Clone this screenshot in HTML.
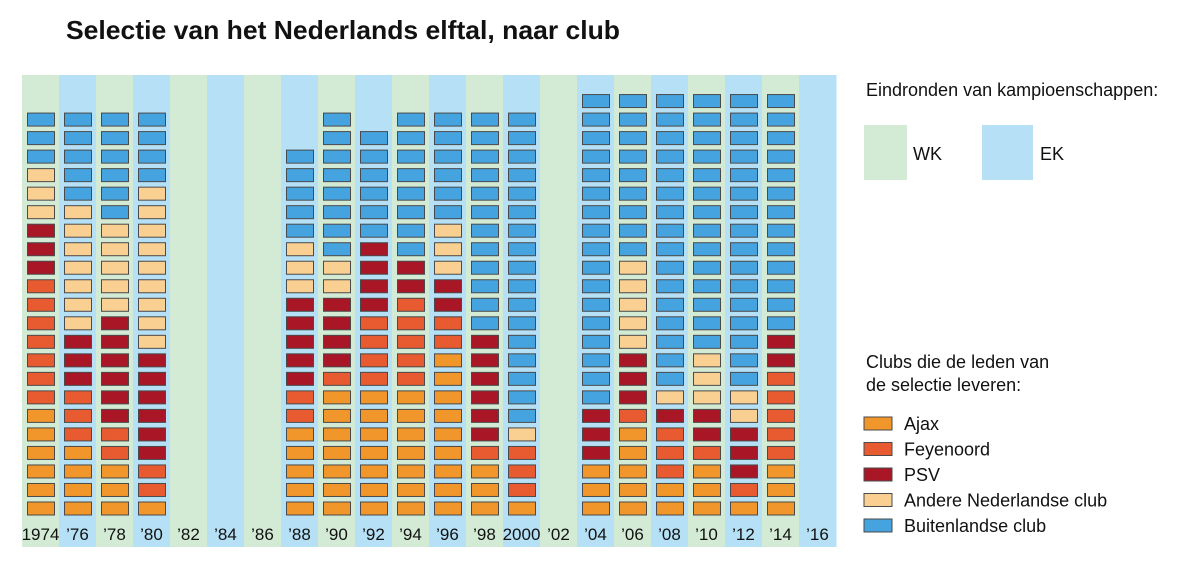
<!DOCTYPE html>
<html><head><meta charset="utf-8"><style>
body{margin:0;background:#fff;width:1200px;height:564px;overflow:hidden}
svg{display:block;font-family:"Liberation Sans",sans-serif}
</style></head><body>
<svg id="chart" width="1200" height="564">
<text x="66" y="39" font-size="26" font-weight="bold" fill="#111" textLength="554" lengthAdjust="spacingAndGlyphs">Selectie van het Nederlands elftal, naar club</text>
<g id="bands"></g><g id="blocks"></g><g id="labels"></g>
<g>
<text x="866" y="96" font-size="18" fill="#111">Eindronden van kampioenschappen:</text>
<rect x="864" y="125" width="43" height="55" fill="#d3ebd5"/>
<text x="913" y="160" font-size="18" fill="#111">WK</text>
<rect x="982" y="125" width="51" height="55" fill="#b5e0f5"/>
<text x="1040" y="160" font-size="18" fill="#111">EK</text>
</g>
<g id="legend">
<text x="866" y="368" font-size="18" fill="#111">Clubs die de leden van</text>
<text x="866" y="391" font-size="18" fill="#111">de selectie leveren:</text>
</g>
</svg>
<script>
const years=["1974","’76","’78","’80","’82","’84","’86","’88","’90","’92","’94","’96","’98","2000","’02","’04","’06","’08","’10","’12","’14","’16"];
const types=["WK","EK","WK","EK","WK","EK","WK","EK","WK","EK","WK","EK","WK","EK","WK","EK","WK","EK","WK","EK","WK","EK"];
const ajax=[6,4,3,1,0,0,0,5,7,7,7,9,3,1,0,3,5,2,3,1,3,0];
const feyenoord=[7,3,2,2,0,0,0,2,1,4,5,2,1,3,0,0,1,3,1,1,5,0];
const psv=[3,3,6,6,0,0,0,5,4,4,2,2,6,0,0,3,3,1,2,3,2,0];
const otherNL=[3,7,5,9,0,0,0,3,2,0,0,3,0,1,0,0,5,1,3,2,0,0];
const foreign=[3,5,6,4,0,0,0,5,8,6,8,6,12,17,0,17,9,16,14,16,13,0];
const clubs=["Ajax","Feyenoord","PSV","Andere Nederlandse club","Buitenlandse club"];
const series=[ajax,feyenoord,psv,otherNL,foreign];
const colors=["#f0962a","#e85a30","#a91626","#fad092","#45a4e0"];
const NS="http://www.w3.org/2000/svg";
const x0=22,slot=37,bottomY=502,pitch=18.52;
const xPos=i=>x0+slot*i;
const yPos=k=>bottomY-pitch*k;
const bands=document.getElementById('bands'),blocks=document.getElementById('blocks'),labels=document.getElementById('labels'),legend=document.getElementById('legend');
function mk(t,a){const e=document.createElementNS(NS,t);for(const k in a)e.setAttribute(k,a[k]);return e;}
years.forEach((y,i)=>{
  const b=mk('rect',{x:xPos(i),y:75,width:slot+0.5,height:472,fill:types[i]==="WK"?"#d3ebd5":"#b5e0f5"});
  
  
  bands.appendChild(b);
  let k=0;
  series.forEach((s,si)=>{
    for(let n=0;n<s[i];n++){
      const r=mk('rect',{x:xPos(i)+5.5,y:yPos(k),width:27,height:13,fill:colors[si],stroke:"#4a4a4a","stroke-width":1});
      
      
      blocks.appendChild(r);k++;
    }
  });
  const t=mk('text',{x:xPos(i)+slot/2,y:540,"font-size":17,"text-anchor":"middle",fill:"#111"});
  t.textContent=y;
  
  
  labels.appendChild(t);
});
clubs.forEach((c,i)=>{
  const y=417+25.5*i;
  const r=mk('rect',{x:864,y:y,width:28,height:13,fill:colors[i],stroke:"#4a4a4a","stroke-width":1});
  
  
  legend.appendChild(r);
  const t=mk('text',{x:904,y:y+13,"font-size":18,fill:"#111"});
  t.textContent=c;
  
  
  legend.appendChild(t);
});
</script>
</body></html>
